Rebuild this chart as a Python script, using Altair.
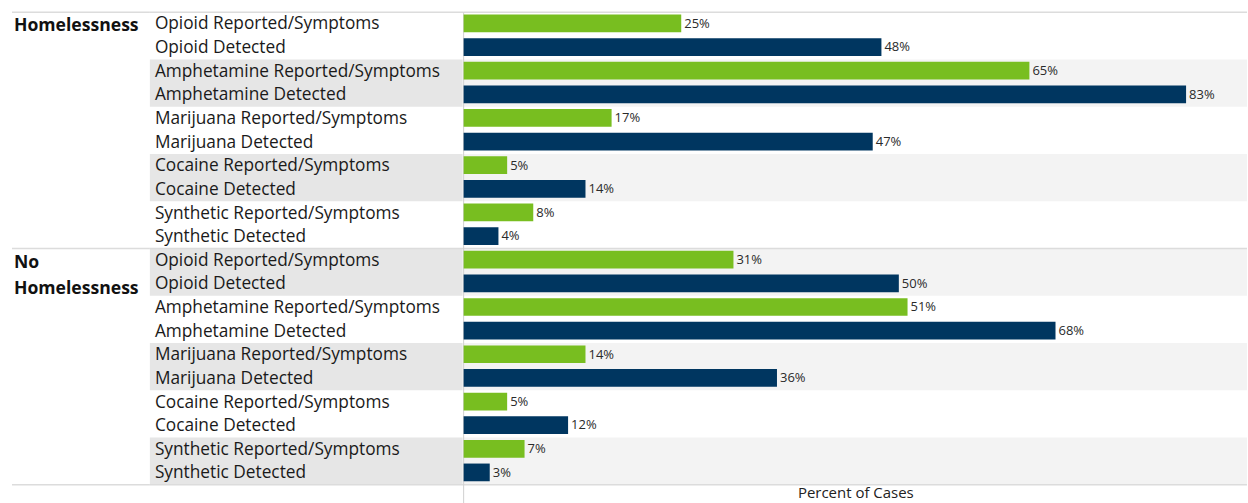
import altair as alt
import pandas as pd

groups = ["Homelessness", "No Homelessness"]
drugs = ["Opioid", "Amphetamine", "Marijuana", "Cocaine", "Synthetic"]
kinds = ["Reported/Symptoms", "Detected"]
homeless_reported = [25, 65, 17, 5, 8]
homeless_detected = [48, 83, 47, 14, 4]
no_homeless_reported = [31, 51, 14, 5, 7]
no_homeless_detected = [50, 68, 36, 12, 3]

values = {
    ("Homelessness", "Reported/Symptoms"): homeless_reported,
    ("Homelessness", "Detected"): homeless_detected,
    ("No Homelessness", "Reported/Symptoms"): no_homeless_reported,
    ("No Homelessness", "Detected"): no_homeless_detected,
}

rows = []
i = 0
for g in groups:
    for d_i, d in enumerate(drugs):
        for k in kinds:
            rows.append({"group": g, "label": f"{d} {k}", "kind": k,
                         "value": values[(g, k)][d_i], "row": i})
            i += 1
df = pd.DataFrame(rows)
df["pct"] = df["value"].astype(str) + "%"

pairs = pd.DataFrame({"pair": list(range(10))})
seps = pd.DataFrame({"pos": [0, 10, 20]})
glabels = pd.DataFrame({"text": ["Homelessness", "No", "Homelessness"],
                        "row": [0, 10, 11], "line": [1, 1, 2]})

H = 473
ysc = alt.Scale(domain=[0, 20], reverse=True, nice=False, zero=False)
xsc = alt.Scale(domain=[0, 90], nice=False, zero=True)
FONT = "Open Sans"
SEP = "#dcdcdc"

# ---------- group label column ----------
gbase = alt.Chart(glabels).transform_calculate(
    ym="datum.row + (datum.line == 1 ? 0.6 : 0.72)")
g_text = gbase.mark_text(align="left", baseline="middle", font=FONT, fontSize=17.6,
                         fontWeight="bold", color="#111").encode(
    x=alt.value(14), y=alt.Y("ym:Q", scale=ysc, axis=None), text="text:N")
g_sep = alt.Chart(seps).mark_rule(color=SEP, strokeWidth=1.5).encode(
    x=alt.value(12), x2=alt.value(150), y=alt.Y("pos:Q", scale=ysc, axis=None))
colA = alt.layer(g_sep, g_text).properties(width=150, height=H)

# ---------- row label column ----------
shade = alt.Chart(pairs).transform_filter("datum.pair % 2 == 1").transform_calculate(
    y0="datum.pair * 2", y1="datum.pair * 2 + 2")
b_shade = shade.mark_rect(color="#e6e6e6").encode(
    x=alt.value(0), x2=alt.value(313),
    y=alt.Y("y0:Q", scale=ysc, axis=None), y2="y1:Q")
b_text = alt.Chart(df).transform_calculate(ym="datum.row + 0.52").mark_text(
    align="left", baseline="middle", font=FONT, fontSize=17.3, color="#1a1a1a").encode(
    x=alt.value(5), y=alt.Y("ym:Q", scale=ysc, axis=None), text="label:N")
b_sep = alt.Chart(seps).mark_rule(color=SEP, strokeWidth=1.5).encode(
    x=alt.value(0), x2=alt.value(314), y=alt.Y("pos:Q", scale=ysc, axis=None))
colB = alt.layer(b_shade, b_sep, b_text).properties(width=314, height=H)

# ---------- bar column ----------
c_shade = shade.mark_rect(color="#f3f3f3").encode(
    x=alt.datum(0, scale=xsc), x2=alt.datum(90),
    y=alt.Y("y0:Q", scale=ysc, axis=None), y2="y1:Q")
c_sep = alt.Chart(seps).mark_rule(color=SEP, strokeWidth=1.5).encode(
    x=alt.datum(0, scale=xsc), x2=alt.datum(90),
    y=alt.Y("pos:Q", scale=ysc, axis=None))
bars_base = alt.Chart(df).transform_calculate(
    y0="datum.row + 0.1", y1="datum.row + 0.85", ym="datum.row + 0.49")
bars = bars_base.mark_bar(stroke=None).encode(
    x=alt.X("value:Q", scale=xsc,
            axis=alt.Axis(labels=False, ticks=False, domain=False, grid=False,
                          title="Percent of Cases", titleFont=FONT, titleFontSize=15,
                          titleFontWeight="normal", titleColor="#222",
                          titlePadding=1)),
    x2=alt.datum(0),
    y=alt.Y("y0:Q", scale=ysc, axis=None), y2="y1:Q",
    color=alt.Color("kind:N", scale=alt.Scale(domain=kinds, range=["#78be20", "#003660"]),
                    legend=None))
labels = bars_base.mark_text(align="left", baseline="middle", dx=3, font=FONT,
                             fontSize=13, color="#2a2a2a").encode(
    x=alt.X("value:Q", scale=xsc), y=alt.Y("ym:Q", scale=ysc, axis=None), text="pct:N")
vline = alt.Chart(seps).transform_filter("datum.pos == 0").mark_rule(
    color="#d0d0d0", strokeWidth=1).encode(
    x=alt.datum(0, scale=xsc), y=alt.value(0), y2=alt.value(492))
colC = alt.layer(c_shade, c_sep, vline, bars, labels).properties(width=784, height=H)

chart = alt.hconcat(colA, colB, colC, spacing=0, bounds="flush").properties(
    padding={"left": 0, "top": 11, "right": 0, "bottom": 0},
    background="white",
).configure_view(stroke=None).configure_concat(spacing=0)

chart.save("out.html", embed_options={"renderer": "svg", "actions": False})
